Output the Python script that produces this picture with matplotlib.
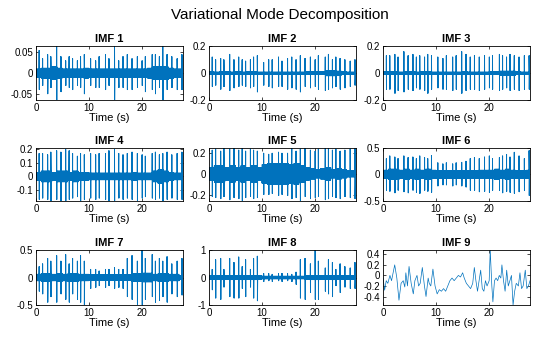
import numpy as np
import matplotlib
matplotlib.use("Agg")
import matplotlib.pyplot as plt

plt.rcParams['font.family'] = ['Liberation Sans', 'DejaVu Sans']

T_END = 27.7
BLUE = '#0072BD'

# burst (beat) times, seconds
beats = [0.6, 1.25, 2.2, 2.8, 3.9, 4.7, 5.6, 6.25, 6.9, 7.8, 8.4, 9.1, 10.3, 11.25, 11.9,
         13.1, 13.75, 14.8, 15.6, 16.4, 17.2, 18.1, 19.1, 20.0, 20.6, 21.9, 22.5, 23.25,
         23.9, 24.7, 25.6, 26.6, 27.5]

# burst peaks (up / down) per IMF
imf1_up = [0.055, 0.035, 0.045, 0.04, 0.065, 0.04, 0.03, 0.04, 0.035, 0.03, 0.04, 0.045, 0.035,
           0.03, 0.04, 0.045, 0.035, 0.065, 0.03, 0.04, 0.045, 0.035, 0.04, 0.03, 0.04, 0.045,
           0.045, 0.04, 0.065, 0.045, 0.04, 0.035, 0.045]
imf1_dn = [0.04, 0.03, 0.05, 0.035, 0.065, 0.045, 0.03, 0.035, 0.04, 0.03, 0.035, 0.05, 0.03,
           0.035, 0.035, 0.04, 0.03, 0.065, 0.035, 0.035, 0.04, 0.04, 0.035, 0.03, 0.045, 0.04,
           0.05, 0.035, 0.065, 0.04, 0.035, 0.04, 0.04]
imf2_up = [0.12, 0.1, 0.11, 0.1, 0.14, 0.1, 0.12, 0.1, 0.09, 0.1, 0.12, 0.13, 0.08, 0.1, 0.1,
           0.12, 0.09, 0.11, 0.12, 0.1, 0.13, 0.11, 0.12, 0.1, 0.13, 0.12, 0.14, 0.1, 0.12,
           0.11, 0.1, 0.09, 0.1]
imf2_dn = [0.1, 0.09, 0.12, 0.1, 0.13, 0.11, 0.1, 0.09, 0.1, 0.11, 0.1, 0.14, 0.09, 0.1, 0.11,
           0.1, 0.1, 0.12, 0.11, 0.12, 0.14, 0.1, 0.11, 0.1, 0.12, 0.13, 0.12, 0.11, 0.1,
           0.12, 0.11, 0.1, 0.09]
imf3_up = [0.13, 0.13, 0.14, 0.12, 0.16, 0.13, 0.14, 0.12, 0.13, 0.12, 0.14, 0.13, 0.12, 0.11,
           0.13, 0.12, 0.13, 0.16, 0.14, 0.12, 0.13, 0.12, 0.13, 0.12, 0.13, 0.14, 0.13, 0.12,
           0.14, 0.13, 0.12, 0.13, 0.13]
imf3_dn = [0.12, 0.12, 0.15, 0.13, 0.14, 0.12, 0.13, 0.11, 0.12, 0.13, 0.15, 0.12, 0.11, 0.12,
           0.12, 0.13, 0.12, 0.15, 0.13, 0.12, 0.12, 0.13, 0.12, 0.11, 0.12, 0.13, 0.12, 0.11,
           0.13, 0.12, 0.13, 0.12, 0.12]
imf4_up = [0.17, 0.17, 0.16, 0.18, 0.19, 0.18, 0.2, 0.19, 0.17, 0.15, 0.17, 0.16, 0.17, 0.16,
           0.17, 0.17, 0.19, 0.2, 0.17, 0.16, 0.17, 0.18, 0.17, 0.16, 0.15, 0.17, 0.18, 0.16,
           0.17, 0.18, 0.16, 0.17, 0.18]
imf4_dn = [0.17, 0.16, 0.17, 0.18, 0.17, 0.18, 0.18, 0.17, 0.16, 0.15, 0.18, 0.17, 0.16, 0.17,
           0.16, 0.17, 0.18, 0.18, 0.16, 0.17, 0.16, 0.17, 0.18, 0.16, 0.15, 0.16, 0.17, 0.16,
           0.18, 0.17, 0.16, 0.17, 0.17]
imf5_up = [0.23, 0.24, 0.22, 0.25, 0.24, 0.26, 0.23, 0.25, 0.22, 0.24, 0.23, 0.22, 0.2, 0.19,
           0.2, 0.21, 0.2, 0.2, 0.26, 0.22, 0.24, 0.25, 0.23, 0.22, 0.24, 0.26, 0.25, 0.23,
           0.24, 0.22, 0.23, 0.24, 0.25]
imf5_dn = [0.22, 0.23, 0.24, 0.22, 0.25, 0.23, 0.24, 0.26, 0.23, 0.22, 0.24, 0.23, 0.2, 0.2,
           0.19, 0.21, 0.2, 0.21, 0.24, 0.23, 0.26, 0.22, 0.24, 0.23, 0.22, 0.25, 0.24, 0.22,
           0.23, 0.24, 0.22, 0.23, 0.24]
imf6_up = [0.3, 0.35, 0.33, 0.3, 0.35, 0.32, 0.33, 0.3, 0.35, 0.32, 0.3, 0.36, 0.22, 0.2,
           0.22, 0.2, 0.22, 0.23, 0.25, 0.3, 0.32, 0.3, 0.33, 0.35, 0.3, 0.32, 0.35, 0.38,
           0.33, 0.42, 0.35, 0.3, 0.45]
imf6_dn = [0.3, 0.32, 0.35, 0.3, 0.33, 0.35, 0.3, 0.34, 0.36, 0.3, 0.32, 0.34, 0.22, 0.2,
           0.2, 0.22, 0.2, 0.22, 0.24, 0.3, 0.3, 0.33, 0.32, 0.34, 0.3, 0.3, 0.35, 0.32,
           0.34, 0.36, 0.33, 0.3, 0.4]
imf7_up = [0.2, 0.25, 0.35, 0.3, 0.4, 0.3, 0.42, 0.25, 0.35, 0.3, 0.4, 0.3, 0.15, 0.15,
           0.12, 0.15, 0.15, 0.18, 0.15, 0.15, 0.35, 0.4, 0.3, 0.5, 0.35, 0.42, 0.3, 0.35,
           0.3, 0.38, 0.25, 0.3, 0.35]
imf7_dn = [0.25, 0.3, 0.45, 0.35, 0.45, 0.3, 0.4, 0.45, 0.3, 0.4, 0.45, 0.5, 0.2, 0.18,
           0.15, 0.18, 0.15, 0.2, 0.18, 0.2, 0.35, 0.4, 0.5, 0.5, 0.4, 0.35, 0.45, 0.42,
           0.35, 0.45, 0.3, 0.35, 0.32]
imf8_up = [0.3, 0.65, 0.7, 0.3, 0.7, 0.55, 0.75, 0.4, 0.65, 0.3, 0.7, 0.78, 0.15, 0.15,
           0.12, 0.15, 0.15, 0.15, 0.12, 0.2, 0.65, 0.7, 0.5, 1.0, 0.6, 0.35, 0.65, 0.55,
           0.3, 0.5, 0.4, 0.35, 0.55]
imf8_dn = [0.45, 0.75, 0.8, 0.35, 0.7, 0.75, 0.75, 0.4, 0.7, 0.35, 0.75, 0.85, 0.15, 0.12,
           0.15, 0.12, 0.15, 0.12, 0.15, 0.25, 0.75, 0.8, 0.55, 0.8, 0.8, 0.5, 0.6, 0.7,
           0.3, 0.55, 0.35, 0.4, 0.4]

# dense background band half-width, one value per second (0..27)
imf1_floor = [0.01, 0.012, 0.012, 0.015, 0.012, 0.01, 0.01, 0.01, 0.01, 0.012, 0.01, 0.01,
              0.01, 0.01, 0.01, 0.01, 0.01, 0.01, 0.01, 0.01, 0.01, 0.012, 0.015, 0.015,
              0.015, 0.012, 0.01, 0.01]
imf2_floor = [0.01, 0.008, 0.01, 0.01, 0.008, 0.01, 0.008, 0.01, 0.01, 0.008, 0.008, 0.008,
              0.008, 0.008, 0.008, 0.008, 0.008, 0.008, 0.01, 0.01, 0.01, 0.01, 0.02, 0.02,
              0.015, 0.01, 0.008, 0.008]
imf3_floor = [0.01, 0.01, 0.01, 0.008, 0.01, 0.01, 0.008, 0.01, 0.01, 0.008, 0.008, 0.008,
              0.008, 0.008, 0.008, 0.01, 0.008, 0.008, 0.008, 0.008, 0.01, 0.01, 0.015, 0.015,
              0.015, 0.01, 0.008, 0.008]
imf4_floor = [0.03, 0.04, 0.04, 0.03, 0.04, 0.04, 0.03, 0.04, 0.03, 0.03, 0.025, 0.025,
              0.025, 0.025, 0.025, 0.025, 0.025, 0.025, 0.03, 0.025, 0.025, 0.025, 0.04, 0.05,
              0.04, 0.03, 0.025, 0.025]
imf5_floor = [0.06, 0.08, 0.08, 0.06, 0.08, 0.06, 0.08, 0.06, 0.08, 0.06, 0.09, 0.1,
              0.1, 0.1, 0.1, 0.09, 0.1, 0.08, 0.06, 0.05, 0.04, 0.05, 0.06, 0.04,
              0.05, 0.04, 0.03, 0.03]
imf6_floor = [0.08, 0.1, 0.1, 0.08, 0.1, 0.08, 0.1, 0.08, 0.1, 0.08, 0.07, 0.07,
              0.07, 0.07, 0.07, 0.07, 0.07, 0.07, 0.08, 0.08, 0.08, 0.1, 0.08, 0.1,
              0.08, 0.07, 0.07, 0.08]
imf7_floor = [0.06, 0.07, 0.07, 0.06, 0.07, 0.06, 0.07, 0.07, 0.06, 0.06, 0.05, 0.05,
              0.05, 0.05, 0.05, 0.05, 0.05, 0.05, 0.07, 0.07, 0.08, 0.08, 0.06, 0.07,
              0.07, 0.06, 0.06, 0.04]
imf8_floor = [0.07, 0.07, 0.08, 0.07, 0.08, 0.07, 0.08, 0.07, 0.08, 0.07, 0.05, 0.05,
              0.05, 0.05, 0.05, 0.05, 0.05, 0.05, 0.07, 0.08, 0.08, 0.07, 0.07, 0.08,
              0.07, 0.06, 0.06, 0.06]

# IMF 9 is smooth: traced turning points
imf9_t = [0.0, 0.3, 0.6, 0.9, 1.3, 1.6, 2.2, 2.6, 3.0, 3.4, 3.8, 4.1, 4.3, 4.6, 4.9, 5.3, 5.7,
          6.0, 6.4, 6.7, 7.0, 7.4, 7.8, 8.1, 8.5, 8.7, 9.0, 9.4, 9.8, 10.2, 10.6, 11.0, 11.4,
          11.8, 12.2, 12.6, 13.0, 13.4, 13.8, 14.2, 14.6, 15.0, 15.3, 15.7, 16.1, 16.5, 16.9,
          17.2, 17.5, 17.8, 18.1, 18.4, 18.7, 19.0, 19.3, 19.6, 20.0, 20.2, 20.5, 20.7, 21.0,
          21.3, 21.6, 21.9, 22.2, 22.4, 22.7, 23.0, 23.3, 23.6, 23.9, 24.2, 24.5, 24.8, 25.1,
          25.5, 25.8, 26.1, 26.4, 26.8, 27.1, 27.4, 27.7]
imf9_v = [-0.05, -0.28, -0.1, -0.15, 0.0, -0.1, 0.2, -0.05, -0.47, -0.15, -0.1, -0.22, 0.05,
          -0.2, 0.17, -0.15, -0.35, -0.1, 0.0, -0.2, -0.15, 0.15, -0.2, -0.4, -0.05, -0.15,
          -0.2, 0.12, -0.2, -0.35, -0.27, -0.3, -0.25, -0.3, -0.2, -0.1, -0.05, -0.1, -0.05,
          0.0, -0.03, 0.05, -0.05, -0.15, -0.2, -0.25, -0.15, 0.15, -0.1, -0.3, -0.1, 0.1,
          -0.25, -0.3, -0.1, -0.2, -0.1, 0.48, -0.2, -0.5, -0.1, -0.05, -0.1, 0.0, -0.05,
          0.2, -0.1, -0.3, 0.1, -0.2, -0.1, 0.0, -0.56, -0.3, -0.15, -0.2, 0.05, -0.25,
          -0.2, 0.1, -0.25, -0.2, -0.1]

ylims = [(-0.065, 0.065), (-0.2, 0.2), (-0.2, 0.2), (-0.18, 0.21), (-0.26, 0.25),
         (-0.5, 0.5), (-0.5, 0.5), (-1, 1), (-0.56, 0.48)]
yticks = [[-0.05, 0, 0.05], [-0.2, 0, 0.2], [-0.2, 0, 0.2], [-0.1, 0, 0.1, 0.2], [-0.2, 0, 0.2],
          [-0.5, 0, 0.5], [-0.5, 0, 0.5], [-1, 0, 1], [-0.4, -0.2, 0, 0.2, 0.4]]
ytlabels = [['-0.05', '0', '0.05'], ['-0.2', '0', '0.2'], ['-0.2', '0', '0.2'],
            ['-0.1', '0', '0.1', '0.2'], ['-0.2', '0', '0.2'], ['-0.5', '0', '0.5'],
            ['-0.5', '0', '0.5'], ['-1', '0', '1'], ['-0.4', '-0.2', '0', '0.2', '0.4']]

ups = [imf1_up, imf2_up, imf3_up, imf4_up, imf5_up, imf6_up, imf7_up, imf8_up]
dns = [imf1_dn, imf2_dn, imf3_dn, imf4_dn, imf5_dn, imf6_dn, imf7_dn, imf8_dn]
floors = [imf1_floor, imf2_floor, imf3_floor, imf4_floor, imf5_floor, imf6_floor,
          imf7_floor, imf8_floor]


def build_trace(up, dn, floor):
    # background band: alternate +/- the band half-width of each second
    tb = np.linspace(0, T_END, 1100)
    sign = np.where(np.arange(tb.size) % 2 == 0, 1.0, -1.0)
    fl = np.array(floor)[np.minimum(tb.astype(int), len(floor) - 1)]
    vb = sign * fl
    # bursts: two thin up/down strokes at each beat
    ts, vs = [], []
    for b, u, d in zip(beats, up, dn):
        ts += [b, b + 0.025, b + 0.05, b + 0.075]
        vs += [u, -d, u, -d]
    t = np.concatenate([tb, ts])
    v = np.concatenate([vb, vs])
    order = np.argsort(t, kind='stable')
    return t[order], v[order]


fig = plt.figure(figsize=(5.6, 3.37), dpi=100)
fig.suptitle('Variational Mode Decomposition', fontsize=11, y=0.975)

lefts = [0.064, 0.373, 0.684]
bottoms = [0.703, 0.404, 0.095]
heights = [0.160, 0.157, 0.163]

for i in range(9):
    r, c = divmod(i, 3)
    ax = fig.add_axes([lefts[c], bottoms[r], 0.2625, heights[r]])
    if i < 8:
        t, v = build_trace(ups[i], dns[i], floors[i])
    else:
        t, v = imf9_t, imf9_v
    ax.plot(t, v, color=BLUE, linewidth=0.5)
    ax.set_xlim(0, T_END)
    ax.set_ylim(*ylims[i])
    ax.set_xticks([0, 10, 20])
    ax.set_yticks(yticks[i])
    ax.set_yticklabels(ytlabels[i])
    ax.tick_params(direction='in', length=2.5, width=0.5, labelsize=7, pad=2,
                   top=True, right=True)
    for s in ax.spines.values():
        s.set_linewidth(0.6)
    ax.set_title('IMF %d' % (i + 1), fontsize=8, fontweight='bold', pad=3)
    ax.set_xlabel('Time (s)', fontsize=8, labelpad=0)

fig.savefig('out.png', dpi=100)
